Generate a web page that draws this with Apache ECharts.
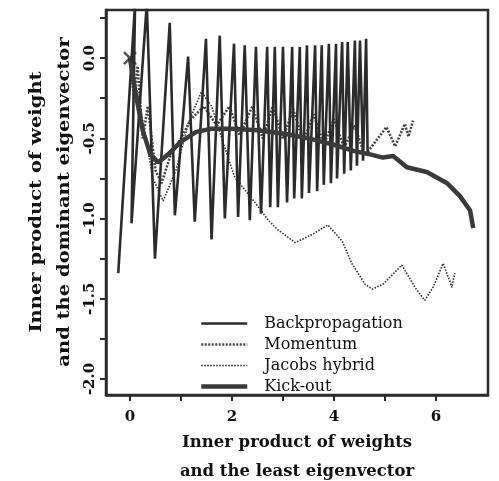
<!DOCTYPE html>
<html>
<head>
<meta charset="utf-8">
<script src="https://cdn.jsdelivr.net/npm/echarts@6/dist/echarts.min.js"></script>
<style>
  html, body { margin: 0; padding: 0; background: #fff; }
  #chart { width: 499px; height: 481px; }
</style>
</head>
<body>
<div id="chart"></div>
<script>
// axis ticks and labels
const xTicks = [0, 1, 2, 3, 4, 5, 6];
const xLabels = [0, 2, 4, 6];
const yTicks = [-2, -1.75, -1.5, -1.25, -1, -0.75, -0.5, -0.25, 0, 0.25];
const yLabels = [-2, -1.5, -1, -0.5, 0];

const seriesNames = ['Backpropagation', 'Momentum', 'Jacobs hybrid', 'Kick-out'];

// Backpropagation: big zigzag, read peak by peak
const backprop = [
  [-0.23, -1.34], [0.10, 0.34], [0.03, -1.03], [0.33, 0.34], [0.49, -1.25],
  [0.78, 0.22], [0.88, -0.98], [1.14, 0.01], [1.27, -1.02], [1.49, 0.12],
  [1.60, -1.13], [1.76, 0.14], [1.86, -1.0], [2.04, 0.09], [2.12, -0.99],
  [2.25, 0.08], [2.35, -1.01], [2.47, 0.07], [2.57, -0.97], [2.69, 0.07],
  [2.75, -0.93], [2.84, 0.07], [2.90, -0.93], [3.00, 0.07], [3.08, -0.90],
  [3.18, 0.07], [3.22, -0.875], [3.33, 0.07], [3.37, -0.875], [3.47, 0.08],
  [3.51, -0.84], [3.63, 0.08], [3.67, -0.83], [3.76, 0.08], [3.80, -0.79],
  [3.90, 0.09], [3.94, -0.78], [4.04, 0.09], [4.06, -0.75], [4.16, 0.10],
  [4.20, -0.72], [4.27, 0.10], [4.33, -0.70], [4.41, 0.11], [4.45, -0.67],
  [4.51, 0.11], [4.57, -0.64], [4.63, 0.12], [4.66, -0.60]
];

const momentum = [
  [0, 0], [0.08, -0.25], [0.15, -0.05], [0.25, -0.5], [0.35, -0.3],
  [0.5, -0.7], [0.62, -0.78], [0.8, -0.6], [1.0, -0.5], [1.2, -0.38],
  [1.45, -0.3], [1.7, -0.42], [1.95, -0.3], [2.15, -0.48], [2.4, -0.3],
  [2.6, -0.5], [2.8, -0.3], [3.0, -0.5], [3.2, -0.32], [3.4, -0.52],
  [3.6, -0.35], [3.8, -0.54], [4.0, -0.38], [4.2, -0.56], [4.4, -0.42],
  [4.6, -0.6], [4.67, -0.58], [5.03, -0.43], [5.2, -0.55], [5.39, -0.41],
  [5.46, -0.49], [5.55, -0.39]
];

const jacobs = [
  [0, 0], [0.2, -0.3], [0.45, -0.75], [0.65, -0.89], [0.9, -0.7],
  [1.15, -0.4], [1.4, -0.21], [1.6, -0.3], [1.85, -0.55], [2.05, -0.74],
  [2.5, -0.92], [2.71, -1.01], [2.9, -1.07], [3.24, -1.15], [3.57, -1.1],
  [3.88, -1.04], [4.16, -1.14], [4.35, -1.28], [4.61, -1.41], [4.75, -1.44],
  [4.96, -1.41], [5.33, -1.29], [5.59, -1.43], [5.78, -1.51], [5.94, -1.43],
  [6.14, -1.28], [6.27, -1.39], [6.31, -1.43], [6.37, -1.34]
];

const kickout = [
  [0, 0], [0.1, -0.2], [0.25, -0.45], [0.4, -0.6], [0.55, -0.65],
  [0.75, -0.6], [1.0, -0.52], [1.3, -0.46], [1.6, -0.44], [2.0, -0.44],
  [2.5, -0.45], [3.0, -0.47], [3.5, -0.5], [4.0, -0.54], [4.4, -0.58],
  [4.71, -0.6], [4.96, -0.62], [5.16, -0.61], [5.43, -0.68], [5.82, -0.71],
  [6.22, -0.78], [6.47, -0.86], [6.67, -0.95], [6.73, -1.06]
];

// starting point marker
const startPoint = [[0, 0]];

const ink = '#2b2b2b';
const serif = 'DejaVu Serif';

let myChart = echarts.init(document.getElementById('chart'), null, { renderer: 'canvas' });

let option = {
  animation: false,
  backgroundColor: '#fff',
  grid: {
    left: 106, right: 11, top: 10, bottom: 86,
    show: true,
    borderColor: ink,
    borderWidth: 2.5
  },
  legend: {
    data: [
      { name: 'Backpropagation', lineStyle: { width: 2.6 } },
      { name: 'Momentum', lineStyle: { width: 2.6 } },
      { name: 'Jacobs hybrid', lineStyle: { width: 1.6 } },
      { name: 'Kick-out', lineStyle: { width: 4.5 } }
    ],
    orient: 'vertical',
    left: 194,
    top: 308,
    itemWidth: 46,
    itemHeight: 14,
    itemGap: 0,
    itemStyle: { opacity: 0 },
    textStyle: {
      fontFamily: serif,
      fontSize: 16,
      color: '#111',
      lineHeight: 21,
      padding: [0, 0, 0, 12]
    }
  },
  xAxis: {
    type: 'value',
    min: -0.47,
    max: 7.02,
    axisLine: { show: true, onZero: false, lineStyle: { color: ink, width: 2.5 } },
    axisTick: { show: true, customValues: xTicks, length: 6, lineStyle: { color: ink, width: 2 } },
    axisLabel: {
      customValues: xLabels,
      margin: 15,
      fontFamily: serif,
      fontWeight: 'bold',
      fontSize: 15,
      color: '#111'
    },
    splitLine: { show: false }
  },
  yAxis: {
    type: 'value',
    min: -2.1,
    max: 0.3,
    axisLine: { show: true, onZero: false, lineStyle: { color: ink, width: 2.5 } },
    axisTick: { show: true, customValues: yTicks, length: 6, lineStyle: { color: ink, width: 2 } },
    axisLabel: {
      customValues: yLabels,
      rotate: 90,
      margin: 8,
      fontFamily: serif,
      fontWeight: 'bold',
      fontSize: 15,
      color: '#111',
      formatter: (v) => Number(v).toFixed(1)
    },
    splitLine: { show: false }
  },
  graphic: [
    {
      type: 'text',
      x: 297, y: 457,
      style: {
        text: 'Inner product of weights\nand the least eigenvector',
        font: 'bold 16.5px "DejaVu Serif"',
        fill: '#111',
        align: 'center',
        verticalAlign: 'middle',
        lineHeight: 29
      }
    },
    {
      type: 'text',
      x: 51, y: 202,
      rotation: Math.PI / 2,
      scaleX: 1.22,
      style: {
        text: 'Inner product of weight\nand the dominant eigenvector',
        font: 'bold 16px "DejaVu Serif"',
        fill: '#111',
        align: 'center',
        verticalAlign: 'middle',
        lineHeight: 28
      }
    }
  ],
  series: [
    {
      name: 'Jacobs hybrid',
      type: 'line',
      data: jacobs,
      symbol: 'none',
      lineStyle: { color: ink, width: 1.6, type: [1.5, 1.5] },
      itemStyle: { color: ink }
    },
    {
      name: 'Momentum',
      type: 'line',
      data: momentum,
      symbol: 'none',
      lineStyle: { color: '#444', width: 2.6, type: [2, 1.5] },
      itemStyle: { color: '#444' }
    },
    {
      name: 'Backpropagation',
      type: 'line',
      data: backprop,
      symbol: 'none',
      lineStyle: { color: ink, width: 2.6 },
      itemStyle: { color: ink }
    },
    {
      name: 'Kick-out',
      type: 'line',
      data: kickout,
      symbol: 'none',
      lineStyle: { color: '#3a3a3a', width: 4.5 },
      itemStyle: { color: '#3a3a3a' }
    },
    {
      name: 'start',
      type: 'scatter',
      data: startPoint,
      symbol: 'path://M0,0L10,10M10,0L0,10',
      symbolSize: 12,
      itemStyle: { color: 'none', borderColor: ink, borderWidth: 2.5 },
      z: 5
    }
  ]
};

myChart.setOption(option, true);
</script>
</body>
</html>
